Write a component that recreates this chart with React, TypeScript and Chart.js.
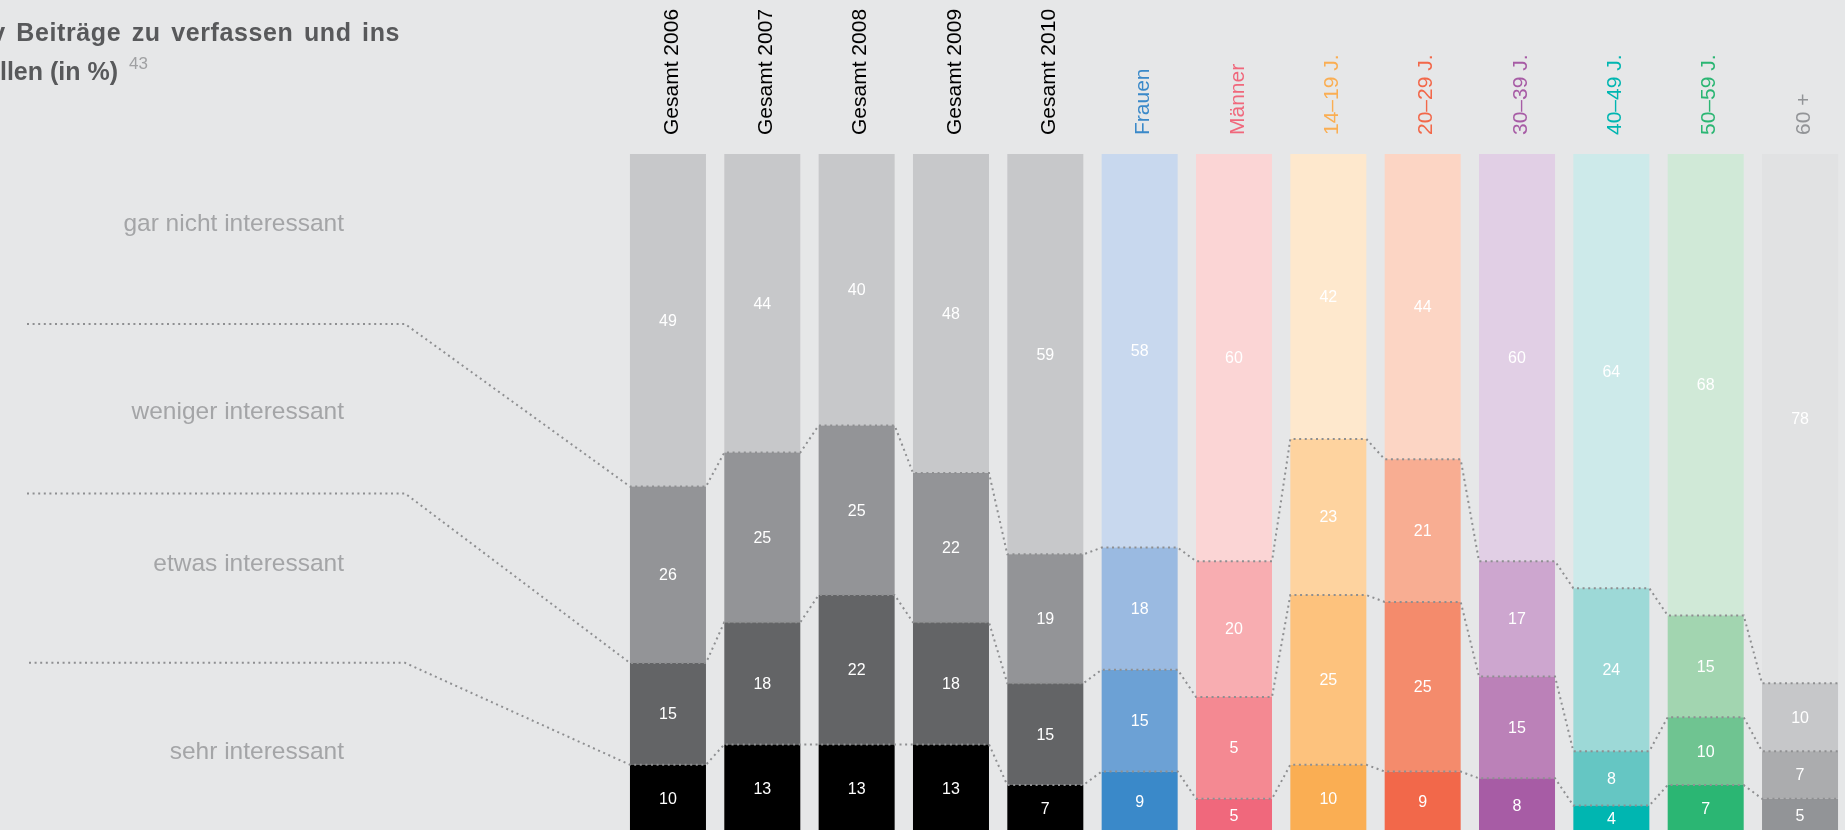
import React, { useEffect, useRef } from "react";
import { Chart, registerables } from "chart.js";

Chart.register(...registerables);

// ---------- data ----------
const categories = [
  "Gesamt 2006",
  "Gesamt 2007",
  "Gesamt 2008",
  "Gesamt 2009",
  "Gesamt 2010",
  "Frauen",
  "Männer",
  "14–19 J.",
  "20–29 J.",
  "30–39 J.",
  "40–49 J.",
  "50–59 J.",
  "60 +",
];

const seriesNames = [
  "sehr interessant",
  "etwas interessant",
  "weniger interessant",
  "gar nicht interessant",
];

// bar heights as drawn in the picture (in %)
const sehr = [10, 13, 13, 13, 7, 9, 5, 10, 9, 8, 4, 7, 5];
const etwas = [15, 18, 22, 18, 15, 15, 15, 25, 25, 15, 8, 10, 7];
const weniger = [26, 25, 25, 22, 19, 18, 20, 23, 21, 17, 24, 15, 10];
const garNicht = [49, 44, 40, 47, 59, 58, 60, 42, 45, 60, 64, 68, 78];

// printed numbers in the picture that differ from the drawn bar height ("series-index")
const printedOverrides: Record<string, string> = { "1-6": "5", "3-3": "48", "3-8": "44" };

const titleLine1 = "aktiv Beiträge zu verfassen und ins";
const titleLine2 = "Internet zu stellen (in %)";
const footnote = "43";

// ---------- styles ----------
// fills per category: [sehr, etwas, weniger, gar nicht]
const gesamt = ["#000000", "#636466", "#939497", "#c7c8ca"];
const categoryFills = [
  gesamt,
  gesamt,
  gesamt,
  gesamt,
  gesamt,
  ["#3a89c9", "#6ca1d5", "#9abae1", "#c8d8ee"],
  ["#f0687c", "#f48992", "#f8adb1", "#fbd5d5"],
  ["#faae53", "#fdc27d", "#fed39f", "#fee8cd"],
  ["#f2684a", "#f48b6c", "#f8ad92", "#fcd5c4"],
  ["#a75ca5", "#bb81b8", "#cda6cf", "#e1cfe5"],
  ["#00b6b1", "#65c6c3", "#9dd9d7", "#cdeaea"],
  ["#2bb673", "#6fc491", "#a2d5b0", "#d0e9d7"],
  ["#929497", "#abacae", "#c6c7c9", "#e1e2e3"],
];
const categoryLabelColors = [
  "#000000",
  "#000000",
  "#000000",
  "#000000",
  "#000000",
  "#3a89c9",
  "#f0687c",
  "#faae53",
  "#f2684a",
  "#a75ca5",
  "#00b6b1",
  "#2bb673",
  "#929497",
];

const BG = "#e6e7e8";
const FONT = "'Liberation Sans', Arial, Helvetica, sans-serif";

const overlayPlugin = {
  id: "overlay",
  afterDraw(chart: any) {
    const ctx: CanvasRenderingContext2D = chart.ctx;
    ctx.save();

    // title
    ctx.fillStyle = "#58595b";
    ctx.font = `bold 25px ${FONT}`;
    ctx.textAlign = "right";
    ctx.textBaseline = "alphabetic";
    const c: any = ctx;
    c.letterSpacing = "0.6px";
    c.wordSpacing = "3px";
    ctx.fillText(titleLine1, 400, 41);
    c.wordSpacing = "0px";
    c.letterSpacing = "0px";
    ctx.fillText(titleLine2, 118, 80);
    ctx.textAlign = "left";
    ctx.fillStyle = "#a0a1a3";
    ctx.font = `17px ${FONT}`;
    ctx.fillText(footnote, 129, 69);

    // series labels on the left
    const labelBaselines = [759, 571, 419, 230.5];
    ctx.font = `24.5px ${FONT}`;
    ctx.fillStyle = "#a4a5a7";
    ctx.textAlign = "right";
    seriesNames.forEach((name, i) => ctx.fillText(name, 344, labelBaselines[i]));

    // dotted connectors along the tops of the three lower segments
    const leadY = [662.8, 493.4, 324];
    const leadX = [29, 27, 27];
    ctx.setLineDash([2, 3.6]);
    ctx.lineWidth = 2;
    ctx.strokeStyle = "#8e8f91";
    for (let si = 0; si < 3; si++) {
      const meta = chart.getDatasetMeta(si);
      ctx.beginPath();
      ctx.moveTo(leadX[si], leadY[si]);
      ctx.lineTo(405, leadY[si]);
      meta.data.forEach((el: any) => {
        const p = el.getProps(["x", "y", "width"], true);
        ctx.lineTo(p.x - p.width / 2, p.y);
        ctx.lineTo(p.x + p.width / 2, p.y);
      });
      ctx.stroke();
    }
    ctx.setLineDash([]);

    // values inside the segments
    ctx.font = `16px ${FONT}`;
    ctx.fillStyle = "#ffffff";
    ctx.textAlign = "center";
    ctx.textBaseline = "middle";
    chart.data.datasets.forEach((ds: any, si: number) => {
      const meta = chart.getDatasetMeta(si);
      meta.data.forEach((el: any, j: number) => {
        const p = el.getProps(["x", "y", "base"], true);
        const txt = printedOverrides[`${si}-${j}`] ?? String(ds.data[j]);
        ctx.fillText(txt, p.x, (p.y + p.base) / 2 + 1);
      });
    });

    ctx.restore();
  },
};

export default function App() {
  const canvasRef = useRef<HTMLCanvasElement | null>(null);

  useEffect(() => {
    const canvas = canvasRef.current;
    if (!canvas) return;
    const series = [sehr, etwas, weniger, garNicht];
    const chart = new Chart(canvas, {
      type: "bar",
      data: {
        labels: categories,
        datasets: series.map((data, si) => ({
          label: seriesNames[si],
          data,
          backgroundColor: categoryFills.map((f) => f[si]),
          borderWidth: 0,
          barPercentage: 0.8057,
          categoryPercentage: 1,
        })),
      },
      options: {
        responsive: false,
        animation: false,
        events: [],
        devicePixelRatio: 1,
        layout: { padding: { left: 620.8, right: 2.8, top: 0, bottom: 7.4 } },
        plugins: {
          legend: { display: false },
          tooltip: { enabled: false },
          title: { display: false },
        },
        scales: {
          x: {
            position: "top",
            stacked: true,
            grid: { display: false, drawTicks: false },
            border: { display: false },
            afterFit: (scale: any) => {
              scale.height = 154;
            },
            ticks: {
              autoSkip: false,
              minRotation: 90,
              maxRotation: 90,
              padding: 19,
              labelOffset: 29,
              font: { family: FONT, size: 21 },
              color: (cx: any) => categoryLabelColors[cx.index] ?? "#000",
            },
          },
          y: {
            display: false,
            stacked: true,
            min: 0,
            max: 100,
          },
        },
      },
      plugins: [overlayPlugin],
    });
    return () => chart.destroy();
  }, []);

  return (
    <div
      style={{
        position: "fixed",
        left: 0,
        top: 0,
        width: 1845,
        height: 830,
        overflow: "hidden",
        background: BG,
      }}
    >
      <canvas ref={canvasRef} width={1850} height={840} style={{ display: "block" }} />
    </div>
  );
}
